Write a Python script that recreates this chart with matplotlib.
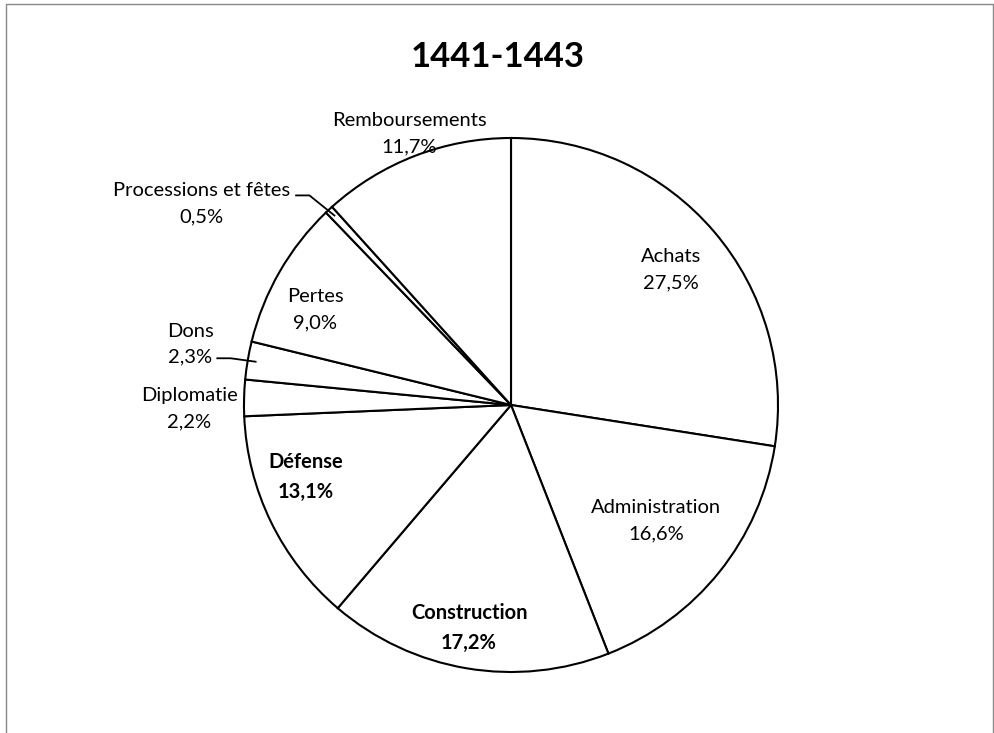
import numpy as np
import matplotlib
matplotlib.use("Agg")
import matplotlib.pyplot as plt
from matplotlib.lines import Line2D

plt.rcParams['font.family'] = ['Lato', 'DejaVu Sans']

# data
categories = ["Achats", "Administration", "Construction", "Défense", "Diplomatie",
              "Dons", "Pertes", "Processions et fêtes", "Remboursements"]
shares = [27.5, 16.6, 17.2, 13.1, 2.2, 2.3, 9.0, 0.5, 11.7]
pct_labels = ["27,5%", "16,6%", "17,2%", "13,1%", "2,2%", "2,3%", "9,0%", "0,5%", "11,7%"]
bold = [False, False, True, True, False, False, False, False, False]

# label layout (axis units, pie radius = 1)
label_xy = [(0.599, 0.506), (0.543, -0.434), (-0.157, -0.835), (-0.768, -0.270),
            (-1.205, -0.015), (-1.202, 0.228), (-0.734, 0.356), (-1.160, 0.753),
            (-0.382, 1.015)]
leaders = {5: (-1.100, 0.175), 7: (-0.805, 0.785)}   # text end for leader lines

W, H = 995, 733
fig = plt.figure(figsize=(W / 100, H / 100), dpi=100)
cx, cy, R = 511, 405, 267
ax = fig.add_axes([(cx - R) / W, (H - cy - R) / H, 2 * R / W, 2 * R / H])

wedges, _ = ax.pie(shares, startangle=90, counterclock=False, radius=1,
                   wedgeprops=dict(facecolor="white", edgecolor="black", linewidth=1.5))
ax.set_xlim(-1, 1)
ax.set_ylim(-1, 1)
ax.axis("off")

for i, (name, pct) in enumerate(zip(categories, pct_labels)):
    x, y = label_xy[i]
    ax.text(x, y, name + "\n" + pct, ha="center", va="center", fontsize=14.5,
            fontweight="bold" if bold[i] else "normal", linespacing=1.65,
            clip_on=False)

# leader lines for the small slices
for i, (tx, ty) in leaders.items():
    w = wedges[i]
    ang = np.deg2rad((w.theta1 + w.theta2) / 2)
    ex, ey = 0.97 * np.cos(ang), 0.97 * np.sin(ang)
    ax.add_line(Line2D([tx, tx + 0.05, ex], [ty, ty, ey], color="black",
                       linewidth=1.3, clip_on=False))

fig.text(0.5, 1 - 57 / H, "1441-1443", ha="center", va="center",
         fontsize=25, fontweight="bold")

# outer frame
fx0, fx1, fy1 = 6 / W, 993 / W, 1 - 4 / H
fig.add_artist(Line2D([fx0, fx0, fx1, fx1], [0, fy1, fy1, 0], color="#888888",
                      linewidth=1.0, transform=fig.transFigure))

fig.savefig("out.png", dpi=100)
